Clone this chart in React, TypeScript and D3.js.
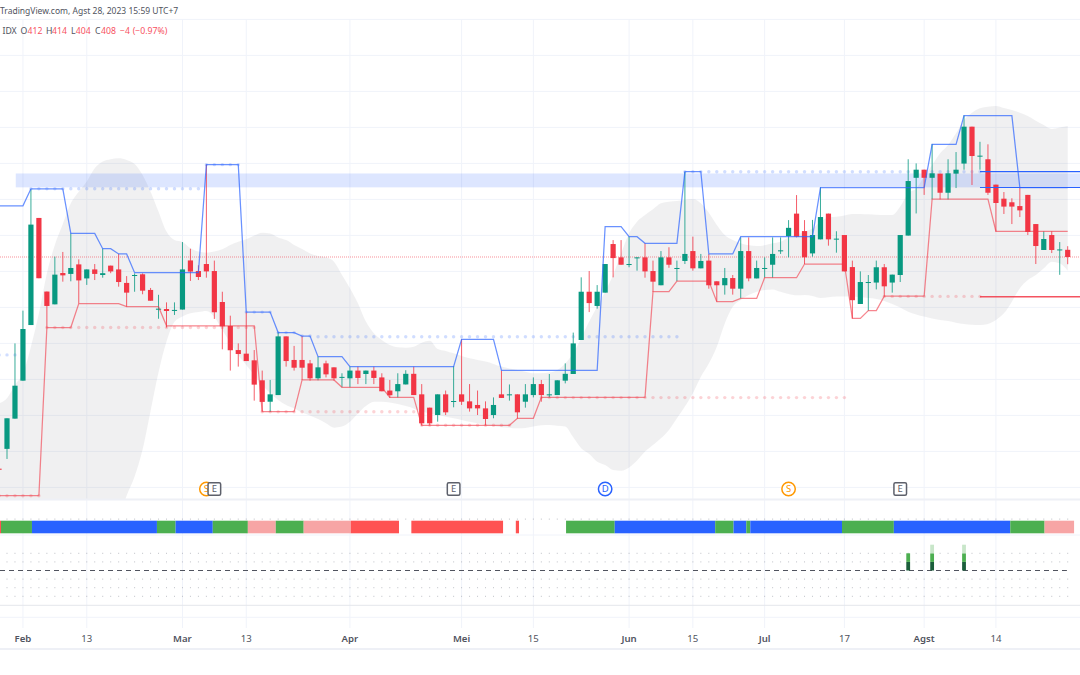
import React from "react";
import * as d3 from "d3";

const FIRST_BAR = -1;
// [open, high, low, close] per trading bar, starting at bar -1
const ohlc: number[][] = [
  [290.4,290.4,289.6,289.8],[301.4,318.4,295.8,318.4],[318.2,360,318.2,336.5],[339.3,378.2,339.3,368],[370.2,445.6,370.2,426],
  [429.7,429.7,396.2,396.2],[388.8,388.8,368.8,380.8],[381.7,408.2,381.7,398.2],[399.1,410.8,394.3,397.8],[398.6,421.1,394.5,401.9],
  [403.9,406.7,382.3,395],[396.1,401.1,392.5,401.1],[401.1,404.1,395.2,398.6],[398,412.6,396.5,399],[403.2,403.2,399,400],
  [401.1,409.7,391.5,394.1],[393.6,397.4,380.4,388.2],[397.5,398.9,388.7,398],[398.4,398.9,387.3,389.3],[389.7,390.8,383.7,383.7],
  [378.7,387,373.7,379.3],[379.1,382.8,368.8,378],[378.2,382.8,375.8,378.6],[378.8,416.3,378.8,401.1],[406.1,412.6,394.7,399.9],
  [400.2,403.4,395.2,396.9],[404.1,459.3,396.5,400],[400.2,406,373.6,377.3],[383,388.7,356.7,369.5],[369.7,375.4,344.9,356.2],
  [356.3,360,347.1,354.1],[354.3,377.3,350.2,350.2],[350.6,356.3,328.2,337.1],[339.5,344.9,322.1,327.5],[327.6,339.7,321.9,331.7],
  [331.3,366.2,331.3,363.9],[363.9,363.9,347.1,350.2],[350.8,358.6,344.9,346.5],[350.8,364.1,339.7,346.5],[348.9,350.8,339.3,340.6],
  [340.6,352.6,339.5,346.7],[348.9,350.4,341.1,342.8],[346.7,346.7,339.3,340.6],[341,343.4,335.6,341.4],[340.6,347.1,335.6,344.9],
  [344.9,347.1,337.4,340.8],[343,344.9,337.4,344.9],[344.9,347.1,337.4,340.8],[341.1,343.4,333.4,333.4],[333.8,339.7,329.7,331.2],
  [333.4,343.4,330,337.4],[337.2,345.1,337.2,343.1],[343.1,347.1,331.3,331.3],[331.7,337.4,314.5,315.6],[324.3,324.3,314.5,315.6],
  [320.2,331.7,316.5,331.7],[331.7,333.8,320.2,321.7],[327.6,347.4,324.5,328],[331.7,362.3,325.8,327.6],[327.8,337.4,322.1,323.9],
  [325.8,333.8,320.2,323.9],[323.9,327.8,314.5,318],[320.2,330,318.4,325.8],[331.7,344.9,329.7,329.7],[331.3,337.2,328.2,331.7],
  [331.7,331.7,318.2,321.7],[327.6,337.4,324.3,331.7],[331.3,341.1,330,337.4],[337.4,339.7,327.6,331.3],[331.3,343,330,331.7],
  [331.3,339.5,331.3,339.5],[339.3,348.9,337.8,343.1],[343,366,343,360],[361.9,396.7,361.9,388.7],[388.7,400.2,377.4,382.4],
  [380.8,392.4,379.3,388.7],[388.2,404.1,388.2,404.1],[415.2,417.4,396.7,407.4],[407.8,417.4,403.7,403.7],[403.7,419.3,402.3,404.1],
  [407.4,407.8,400.4,407.8],[407.8,415.6,396.5,400],[400.2,406,388.7,394.3],[392.3,411.3,392.3,407.8],[407.8,413.4,402,403.7],
  [401.5,406,394.6,401.9],[405.8,455.2,404.1,409.7],[411.3,419.3,400.4,401.7],[401.7,409.7,401.7,405.8],[406,409.7,390.4,392.3],
  [394.5,394.5,383.2,392.3],[392.3,401.9,387.1,396.3],[396.3,398,387.1,390.4],[390.4,418.9,385,411.3],[411.3,418.9,394.5,396.1],
  [396.1,406,396.1,401.9],[401.5,407.8,396.5,401.9],[403.7,418.9,396.5,409.7],[411.3,418.9,409.7,411.7],[419.6,428.5,407.8,424.2],
  [432.1,442.4,418.9,419.3],[422.4,428.5,404.1,407.8],[410,428.6,408.2,420.2],[417.8,446.7,417.8,430.2],[432.1,432.1,414.3,417.8],
  [417.8,422.3,410.4,418.2],[420.2,420.2,400,400],[402.4,406,373.9,384],[381.9,400,381.9,394.1],[393.8,398,378.2,394.1],
  [393.8,406,390,402.3],[402.3,404.1,386,391.7],[393.8,398.2,388.2,398.2],[398,420.2,394.1,420.2],[419.9,462.3,419.9,450.2],
  [452,460,432.2,456.5],[456.5,456.5,442.5,452],[452,470.8,440,454.5],[454.3,454.3,440,443.7],[443.7,462.3,440,454.5],
  [454.3,466.3,446.3,456.5],[459.9,486.7,456.5,480.4],[480.4,480.4,448,464.1],[463.9,472,456.5,464.3],[462.3,470.6,442.5,443.7],
  [448.2,448.2,422.1,438],[440.4,444.1,431.9,436],[438.4,440.6,426.3,436],[436.3,446.5,430.2,433.9],[442.5,442.5,420.2,421.9],
  [426.3,426.3,404.1,414.1],[411.9,422.3,411.9,418],[420.2,422.3,410.2,411.9],[411.9,416.3,398.1,412.2],[412,414,404,408],
];

const bandUpper = [
  326.7,329.5,336.9,343.4,358.2,376.7,398.9,414.7,426.3,437.8,444.3,449.9,457.3,461,462.3,462.8,461.9,459.7,453.6,444.3,433.2,422.1,417.4,416.3,412.8,411,410.4,411,412.3,414.7,416.5,417.8,419.9,421.5,421.1,
  418.9,417.4,414.7,412.4,410,408.6,407.8,405.4,398,390.6,382.3,372.1,365.6,361.9,359.1,357.8,357.6,358.2,360.4,361.5,356.9,355.8,354.5,353,351.7,350.8,349.9,348.6,347.1,346.1,345.2,344.3,343.4,343.4,
  343.8,345.2,348.9,354.5,362.8,372.1,380.4,388.7,398,410,421.1,427.6,431.3,434.5,437.8,438.7,439.1,439.7,440.2,437.8,432.6,425.8,420.2,417.4,415.6,414.5,414.1,414.5,415.6,416.5,418.9,420.2,422.1,
  423.9,427.6,430,430.4,431.1,431.9,431.9,431.7,431.5,431.3,431.3,436,443.4,446.1,452.6,459.1,465.6,470.2,476.7,484.1,488.2,490.6,491.5,491.9,490.8,489.7,488.2,486.3,483.7,481.3,479.1,479.9,480.8,
];
const bandLower = [
  255,255,255,255,255,255,255,255,255,255,255,255,255,255,255,262,275.4,286,301,322.5,344,361,372,375,376.7,377.4,378,374.7,367.4,360.3,353.6,348,342.4,336.9,332.4,
  328.6,325.8,324,321.6,319.9,318,315.6,313.2,313.8,316.5,321.1,325.2,327.6,327.6,327.1,326.3,325.2,323.9,322.1,321.1,320.2,319.3,318.4,317.5,316.5,315.6,314.7,314.1,313.4,313.2,312.8,313,313.8,314.5,
  314.7,314.3,313.8,307.8,301.7,298.5,294.3,292.5,289.7,289.3,291.1,294.9,299.9,303.6,307.3,311.9,318.4,324.9,332.3,341.5,348.9,358.2,371.1,380.4,384.1,386.9,388.7,389.7,390,388.7,387.4,386.7,386.9,
  386.3,385.2,385.6,386,386,386,385.6,385.2,384.7,383.6,381.9,380,377.6,376.1,374.9,373.9,373,372.4,371.5,370.8,370.4,370.2,370.8,373,376.7,383.2,390.6,395.2,398,401.7,405.4,404.5,400.4,
];

// [first bar of the step, level]
const blueSteps = [[-1,436.4],[3,445.9],[8,421.1],[12,412.6],[14,409.7],[16,399.3],[25,459.3],[30,377.4],[34,366],[37,364.1],[39,352.6],[43,347.1],[57,362.3],[62,345],[75,424.9],[78,419.3],[80,415.6],[85,455.4],[88,409.7],[92,419.3],[102,446.5],[116,470.6],[120,486.5],[127,446.5]];
const redSteps = [[-1,275.4],[5,368.8],[9,382.1],[15,380.4],[20,369.8],[32,322.1],[37,339.7],[42,335.6],[48,330],[52,314.5],[64,318.4],[67,330],[81,388.7],[84,394.6],[89,383.2],[92,385],[95,396.5],[100,404.1],[106,373.9],[108,378.2],[110,386.2],[116,440.2],[124,422.3]];
// [from bar, to bar, level]
const blueDots = [[-1,1,353.6],[3,24,445.9],[25,29,459.3],[30,33,377.4],[34,36,366],[37,38,364.1],[39,84,363.7],[85,123,455.4]];
const redDots = [[-1,4,275.4],[5,31,368.8],[32,51,322],[52,63,314.5],[67,105,329.9],[110,122,386.1]];

const gridPrices = d3.range(280, 541, 20);
const tickBars = [2,10,22,30,43,57,66,78,86,95,105,115,124];
const tickLabels = ["Feb","13","Mar","13","Apr","Mei","15","Jun","15","Jul","17","Agst","14"];
const monthLabels = ["Feb","Mar","Apr","Mei","Jun","Jul","Agst"];

const zoneTop = 454.4, zoneBottom = 446.7, zoneStartBar = 1.1;
const lastClose = 408;
const blueLevels = [455.4, 446.6];
const redLevels = [385.9];
const levelStartBar = 122;

const segStart = [-0.88,-0.75,3.13,18.8,21.14,25.8,30.2,33.7,37.2,43.1,50.7,63.8,70.1,76.2,88.8,91.1,92.7,93.2,104.7,111.2,125.8,130.1];
const segEnd   = [-0.75,3.13,18.8,21.14,25.8,30.2,33.7,37.2,43.1,49.15,62.2,64.2,76.2,88.8,91.1,92.7,93.2,104.7,111.2,125.8,130.1,133.8];
const segColor = ["#ff5252","#4caf50","#2962ff","#4caf50","#2962ff","#4caf50","#f7a5a5","#4caf50","#f7a5a5","#ff5252","#ff5252","#ff5252","#4caf50","#2962ff","#4caf50","#2962ff","#4caf50","#2962ff","#4caf50","#2962ff","#4caf50","#f7a5a5"];

const histBars = [113,116,120];
const histLevels = [2,3,3];
const histColors = ["#1b5e3b","#4caf50","#c8e6c9"];
const dotRows = [2,1,-1,-2,-3];

const eventBars = [25,26,56,75,98,112];
const eventKinds = ["S","E","E","D","S","E"];

const GREEN = "#089981", RED = "#f23645";
const FONT = "'Noto Sans', sans-serif";
const GRID = "#f0f3fa";

const x = d3.scaleLinear().domain([0, 133]).range([7, 1067.7]);
const y = d3.scaleLinear().domain([280, 540]).range([487.4, 19.4]);
const yOsc = d3.scaleLinear().domain([-3, 3]).range([596.3, 544.7]);
const bars = ohlc.map((_, k) => k + FIRST_BAR);

const expand = (steps: number[][]) =>
  bars.map((b) => {
    let v = steps[0][1];
    for (const s of steps) if (s[0] <= b) v = s[1];
    return [b, v] as [number, number];
  });

const stepLine = d3.line<[number, number]>().x((d) => x(d[0])).y((d) => y(d[1]));
const bandArea = d3
  .area<number>()
  .x((_, k) => x(bars[k]))
  .y0((_, k) => y(bandLower[k]))
  .y1((d) => y(d))
  .curve(d3.curveMonotoneX);

const dots = (list: number[][]) =>
  list.flatMap(([a, b, v]) => d3.range(a, b + 1).map((i) => [i, v]));

function Event({ bar, kind }: { bar: number; kind: string }) {
  const cx = x(bar);
  const cy = 489;
  if (kind === "E") {
    return (
      <g>
        <rect x={cx - 6.3} y={cy - 6.3} width={12.6} height={12.6} rx={1.5} fill="#fff" stroke="#5d606b" strokeWidth={1.5} />
        <text x={cx} y={cy + 3.3} textAnchor="middle" fontSize={9.5} fontFamily={FONT} fill="#5d606b">E</text>
      </g>
    );
  }
  const c = kind === "D" ? "#2962ff" : "#ff9800";
  return (
    <g>
      <circle cx={cx} cy={cy} r={6.7} fill="#fff" stroke={c} strokeWidth={1.5} />
      <text x={cx} y={cy + 3.3} textAnchor="middle" fontSize={9.5} fontFamily={FONT} fill={c}>{kind}</text>
    </g>
  );
}

export default function App() {
  const W = 1080;
  const H = 675;
  return (
    <svg width={W} height={H} viewBox={`0 0 ${W} ${H}`} style={{ position: "absolute", left: 0, top: 0, background: "#fff" }}>
      <defs>
        <clipPath id="main"><rect x={0} y={19} width={W} height={480} /></clipPath>
      </defs>

      {gridPrices.map((p) => (
        <line key={p} x1={0} x2={W} y1={y(p)} y2={y(p)} stroke={GRID} strokeWidth={1} />
      ))}
      {tickBars.map((b) => (
        <line key={b} x1={x(b)} x2={x(b)} y1={19} y2={628} stroke={GRID} strokeWidth={1} />
      ))}

      <g clipPath="url(#main)">
        <path d={bandArea(bandUpper) || ""} fill="#787b86" fillOpacity={0.115} />
        <rect x={x(zoneStartBar)} y={y(zoneTop)} width={W - x(zoneStartBar)} height={y(zoneBottom) - y(zoneTop)} fill="#2962ff" fillOpacity={0.16} />
        <line x1={0} x2={W} y1={y(lastClose)} y2={y(lastClose)} stroke={RED} strokeOpacity={0.55} strokeWidth={1} strokeDasharray="1 1" />

        {dots(blueDots).map(([i, v], k) => (
          <circle key={"bd" + k} cx={x(i)} cy={y(v)} r={1.7} fill="#2962ff" fillOpacity={0.22} />
        ))}
        {dots(redDots).map(([i, v], k) => (
          <circle key={"rd" + k} cx={x(i)} cy={y(v)} r={1.7} fill={RED} fillOpacity={0.22} />
        ))}

        {ohlc.map(([o, h, l, c], k) => {
          const up = c >= o;
          const col = up ? GREEN : RED;
          const cx = x(bars[k]);
          const top = y(Math.max(o, c));
          const bot = y(Math.min(o, c));
          return (
            <g key={k}>
              <line x1={cx} x2={cx} y1={y(h)} y2={y(l)} stroke={col} strokeWidth={1} strokeOpacity={0.8} />
              <rect x={cx - 2.6} y={top} width={5.2} height={Math.max(bot - top, 1)} fill={col} />
            </g>
          );
        })}

        <path d={stepLine(expand(redSteps)) || ""} fill="none" stroke={RED} strokeOpacity={0.6} strokeWidth={1.25} />
        <path d={stepLine(expand(blueSteps)) || ""} fill="none" stroke="#2962ff" strokeOpacity={0.7} strokeWidth={1.25} />

        {blueLevels.map((p) => (
          <line key={p} x1={x(levelStartBar)} x2={W} y1={y(p)} y2={y(p)} stroke="#2962ff" strokeWidth={1.2} />
        ))}
        {redLevels.map((p) => (
          <line key={p} x1={x(levelStartBar)} x2={W} y1={y(p)} y2={y(p)} stroke={RED} strokeOpacity={0.85} strokeWidth={1.5} />
        ))}
      </g>

      {eventBars.map((b, k) => (
        <Event key={k} bar={b} kind={eventKinds[k]} />
      ))}

      {/* pane separators */}
      <line x1={0} x2={W} y1={499.5} y2={499.5} stroke="#eef0f6" strokeWidth={2} />
      <line x1={0} x2={W} y1={535} y2={535} stroke={GRID} strokeWidth={1} />
      <line x1={0} x2={W} y1={605.3} y2={605.3} stroke="#e4e6ec" strokeWidth={1} />
      <line x1={0} x2={W} y1={617.3} y2={617.3} stroke={GRID} strokeWidth={1} />
      <line x1={0} x2={W} y1={649} y2={649} stroke="#eef0f6" strokeWidth={2} />

      {/* trend ribbon */}
      {bars.map((b) => (
        <rect key={"t" + b} x={x(b) - 0.5} y={518.6} width={1} height={1} fill="#9598a1" fillOpacity={0.6} />
      ))}
      {segStart.map((s, k) => (
        <rect key={"s" + k} x={x(s)} y={520.7} width={x(segEnd[k]) - x(s)} height={12.6} fill={segColor[k]} />
      ))}

      {/* oscillator */}
      {dotRows.map((r) =>
        bars.map((b) => (
          <rect key={r + "_" + b} x={x(b) - 0.5} y={yOsc(r) - 0.5} width={1} height={1} fill="#9598a1" fillOpacity={0.6} />
        ))
      )}
      <line x1={0} x2={x(132.9)} y1={yOsc(0)} y2={yOsc(0)} stroke="#50535e" strokeWidth={1} strokeDasharray="5 4" />
      {histBars.map((b, k) =>
        d3.range(histLevels[k]).map((lv) => (
          <rect key={b + "_" + lv} x={x(b) - 1.9} y={yOsc(lv + 1)} width={3.8} height={yOsc(lv) - yOsc(lv + 1)} fill={histColors[lv]} />
        ))
      )}

      {/* time axis */}
      {tickBars.map((b, k) => (
        <text
          key={"l" + k}
          x={x(b)}
          y={641.8}
          textAnchor="middle"
          fontFamily={FONT}
          fontSize={9.6}
          fontWeight={monthLabels.includes(tickLabels[k]) ? 600 : 400}
          fill="#50535e"
        >
          {tickLabels[k]}
        </text>
      ))}

      {/* header */}
      <text x={0} y={14} fontFamily={FONT} fontSize={8.5} fill="#50535e">TradingView.com, Agst 28, 2023 15:59 UTC+7</text>
      <g fontFamily={FONT} fontSize={8.7}>
        <text x={2.5} y={34} fill="#50535e">IDX</text>
        <text x={20.5} y={34} fill="#50535e">O</text>
        <text x={27.5} y={34} fill="#f7525f">412</text>
        <text x={46} y={34} fill="#50535e">H</text>
        <text x={52} y={34} fill="#f7525f">414</text>
        <text x={71} y={34} fill="#50535e">L</text>
        <text x={75.7} y={34} fill="#f7525f">404</text>
        <text x={95} y={34} fill="#50535e">C</text>
        <text x={101} y={34} fill="#f7525f">408</text>
        <text x={120} y={34} fill="#f7525f">−4</text>
        <text x={132.7} y={34} fill="#f7525f">(−0.97%)</text>
      </g>
    </svg>
  );
}
